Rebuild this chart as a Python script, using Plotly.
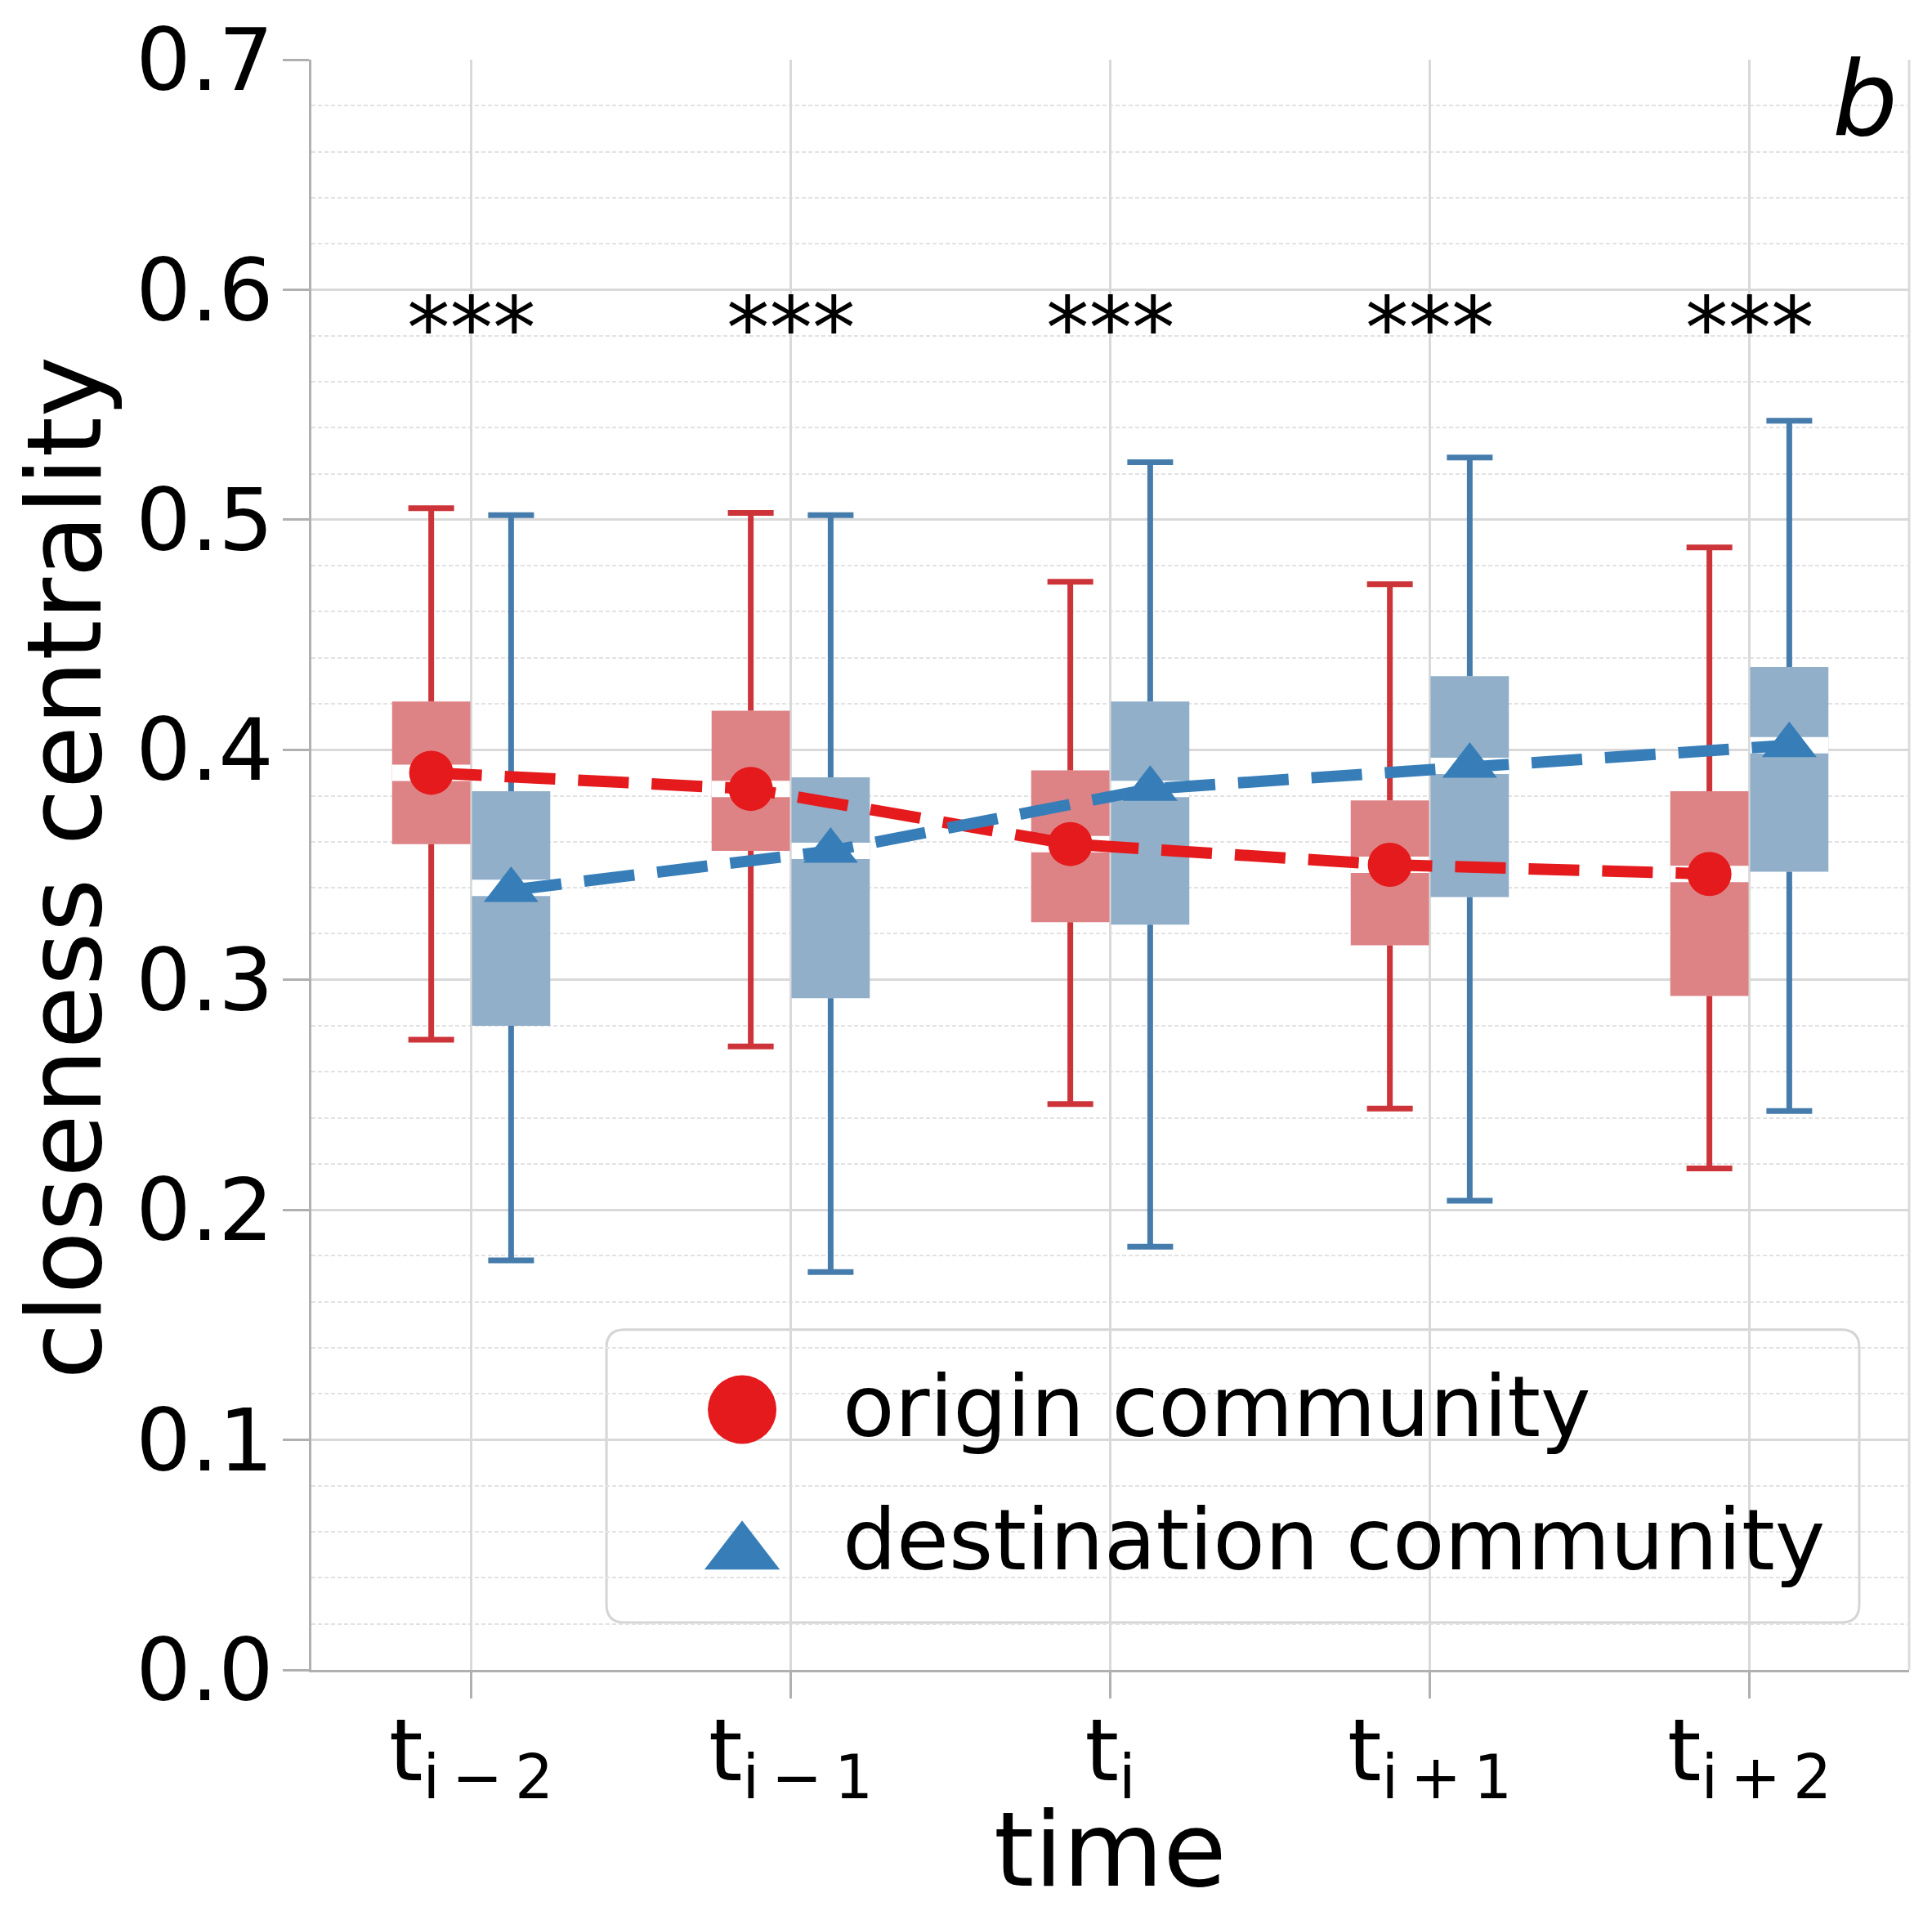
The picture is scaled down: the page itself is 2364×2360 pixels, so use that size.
import plotly.graph_objects as go

# categories (time steps)
time_labels = ["t<sub>i\u2009−\u20092</sub>", "t<sub>i\u2009−\u20091</sub>", "t<sub>i</sub>",
               "t<sub>i\u2009+\u20091</sub>", "t<sub>i\u2009+\u20092</sub>"]
significance = ["***", "***", "***", "***", "***"]

# origin community: whisker low, q1, median, q3, whisker high, mean
origin_lo = [0.274, 0.271, 0.246, 0.244, 0.218]
origin_q1 = [0.359, 0.356, 0.325, 0.315, 0.293]
origin_med = [0.390, 0.383, 0.359, 0.350, 0.346]
origin_q3 = [0.421, 0.417, 0.391, 0.378, 0.382]
origin_hi = [0.505, 0.503, 0.473, 0.472, 0.488]
origin_mean = [0.390, 0.383, 0.359, 0.350, 0.346]

# destination community
dest_lo = [0.178, 0.173, 0.184, 0.204, 0.243]
dest_q1 = [0.280, 0.292, 0.324, 0.336, 0.347]
dest_med = [0.340, 0.356, 0.383, 0.393, 0.402]
dest_q3 = [0.382, 0.388, 0.421, 0.432, 0.436]
dest_hi = [0.502, 0.502, 0.525, 0.527, 0.543]
dest_mean = [0.339, 0.356, 0.383, 0.393, 0.402]

FONT = "DejaVu Sans"
BOX_W = 0.245
OFFSET = 0.125

series = [
    dict(name="origin community", off=-OFFSET, lo=origin_lo, q1=origin_q1, med=origin_med,
         q3=origin_q3, hi=origin_hi, mean=origin_mean, box="#de8385", whisk="#cd3439",
         line="#e41a1c", symbol="circle", msize=54, lsize=84, ly=0.1617, ty=0.1635),
    dict(name="destination community", off=OFFSET, lo=dest_lo, q1=dest_q1, med=dest_med,
         q3=dest_q3, hi=dest_hi, mean=dest_mean, box="#91afc9", whisk="#457cac",
         line="#377eb8", symbol="triangle-up", msize=58, lsize=80, ly=0.0725, ty=0.0805),
]

fig = go.Figure()

for s in series:
    xs = [i + s["off"] for i in range(len(time_labels))]
    # boxes
    fig.add_trace(go.Bar(x=xs, y=[b - a for a, b in zip(s["q1"], s["q3"])], base=s["q1"],
                         width=BOX_W, marker=dict(color=s["box"], line=dict(width=0)),
                         showlegend=False, hoverinfo="skip"))
    # whiskers
    wx, wy = [], []
    for x, lo, q1, q3, hi in zip(xs, s["lo"], s["q1"], s["q3"], s["hi"]):
        wx += [x, x, None, x, x, None]
        wy += [q3, hi, None, q1, lo, None]
    fig.add_trace(go.Scatter(x=wx, y=wy, mode="lines", line=dict(color=s["whisk"], width=7),
                             showlegend=False, hoverinfo="skip"))
    # caps
    fig.add_trace(go.Scatter(x=xs + xs, y=s["lo"] + s["hi"], mode="markers",
                             marker=dict(symbol="line-ew", size=40,
                                         line=dict(color=s["whisk"], width=7)),
                             showlegend=False, hoverinfo="skip"))
    # medians (white)
    mx, my = [], []
    for x, m in zip(xs, s["med"]):
        mx += [x - BOX_W / 2, x + BOX_W / 2, None]
        my += [m, m, None]
    fig.add_trace(go.Scatter(x=mx, y=my, mode="lines", line=dict(color="white", width=20),
                             showlegend=False, hoverinfo="skip"))

for s in series:
    xs = [i + s["off"] for i in range(len(time_labels))]
    fig.add_trace(go.Scatter(x=xs, y=s["mean"], mode="lines+markers", name=s["name"],
                             line=dict(color=s["line"], width=14, dash="62px,28px"),
                             marker=dict(symbol=s["symbol"], size=s["msize"], color=s["line"]),
                             showlegend=False))

# hand-made legend (large markers) on an overlay axis
for s in series:
    fig.add_trace(go.Scatter(x=[0.2696], y=[s["ly"]], xaxis="x2", yaxis="y2", mode="markers",
                             marker=dict(symbol=s["symbol"], size=s["lsize"], color=s["line"]),
                             showlegend=False, hoverinfo="skip"))
    fig.add_annotation(text=s["name"], xref="paper", yref="paper", x=0.3315, y=s["ty"],
                       xanchor="left", yanchor="middle", showarrow=False,
                       font=dict(family=FONT, size=104, color="black"))

lx0, lx1, ly0, ly1 = 0.1847, 0.9688, 0.0294, 0.2113
rx, ry = 0.0113, 0.0112
legend_path = (f"M{lx0+rx},{ly0} L{lx1-rx},{ly0} Q{lx1},{ly0} {lx1},{ly0+ry} "
               f"L{lx1},{ly1-ry} Q{lx1},{ly1} {lx1-rx},{ly1} L{lx0+rx},{ly1} "
               f"Q{lx0},{ly1} {lx0},{ly1-ry} L{lx0},{ly0+ry} Q{lx0},{ly0} {lx0+rx},{ly0} Z")
fig.add_shape(type="path", path=legend_path, xref="paper", yref="paper",
              fillcolor="rgba(255,255,255,0.85)", line=dict(color="#d5d5d5", width=3),
              layer="between")
# right border
fig.add_shape(type="line", xref="paper", yref="paper", x0=1, x1=1, y0=0, y1=1,
              line=dict(color="#dcdcdc", width=3), layer="below")

for i, txt in enumerate(significance):
    fig.add_annotation(text=txt, x=i, y=0.583, xref="x", yref="y", showarrow=False,
                       yanchor="middle", font=dict(family=FONT, size=105, color="black"))

fig.add_annotation(text="<i>b</i>", xref="paper", yref="paper", x=0.994, y=0.937,
                   xanchor="right", yanchor="bottom", showarrow=False,
                   font=dict(family=FONT, size=126, color="black"))

# axis titles
title_font = dict(family=FONT, size=126, color="black")
fig.add_annotation(text="time", xref="paper", yref="paper", x=0.5, y=-0.112,
                   xanchor="center", yanchor="middle", showarrow=False, font=title_font)
fig.add_annotation(text="closeness centrality", xref="paper", yref="paper", x=-0.154, y=0.498,
                   xanchor="center", yanchor="middle", textangle=-90, showarrow=False,
                   font=title_font)

axis_common = dict(showline=True, linecolor="#b0b0b0", linewidth=3, ticks="outside",
                   ticklen=32, tickwidth=3, tickcolor="#b0b0b0", showgrid=True,
                   gridcolor="#d9d9d9", gridwidth=3, zeroline=False,
                   tickfont=dict(family=FONT, size=106, color="black"))

fig.update_layout(
    width=2364, height=2360, autosize=False,
    margin=dict(l=381, r=28, t=70, b=317),
    plot_bgcolor="white", paper_bgcolor="white",
    barmode="overlay", showlegend=False,
    xaxis=dict(range=[-0.5, 4.5], tickvals=list(range(len(time_labels))), ticktext=time_labels,
               ticklabelstandoff=-27, **axis_common),
    yaxis=dict(range=[0, 0.7], dtick=0.1, tickformat=".1f", ticklabelstandoff=-10,
               minor=dict(dtick=0.02, showgrid=True, gridcolor="#e2e2e2", gridwidth=1.5,
                          griddash="5px,3px"),
               **axis_common),
    xaxis2=dict(domain=[0, 1], range=[0, 1], overlaying="x", anchor="y2", visible=False),
    yaxis2=dict(domain=[0, 1], range=[0, 1], overlaying="y", anchor="x2", visible=False),
)

fig.write_html("out.html", config={"displayModeBar": False},
               post_script="document.body.style.margin='0px';")
